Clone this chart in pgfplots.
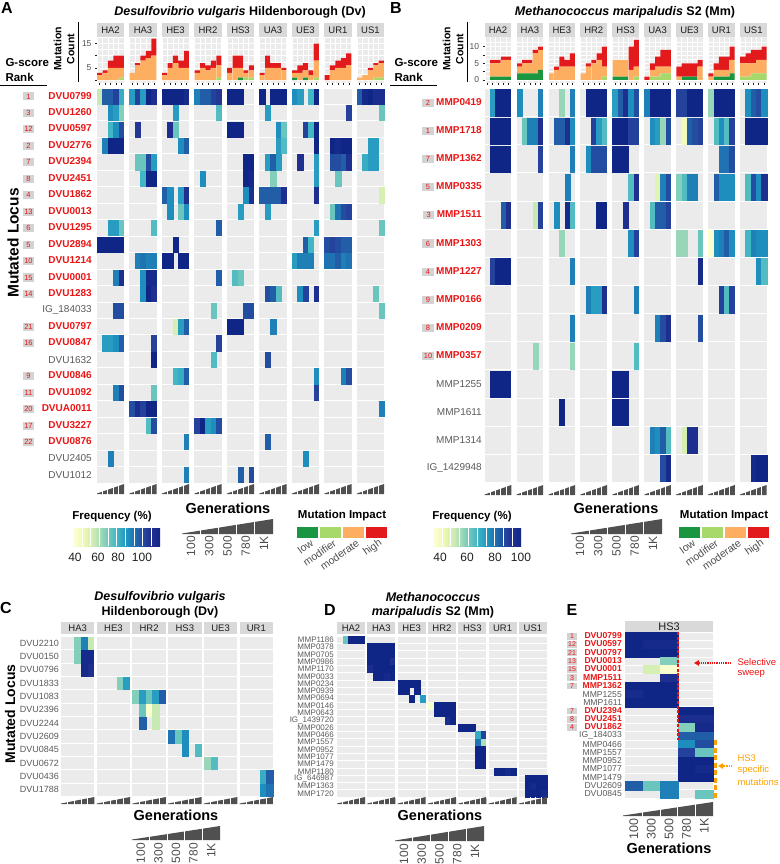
\documentclass[border=0pt]{standalone}
\usepackage{pgfplots}
\usepackage{pgfplotstable}
\pgfplotsset{compat=1.18}
\usepackage{fontspec}
\setmainfont{Liberation Sans}
\usetikzlibrary{arrows.meta}

\definecolor{bggray}{RGB}{235,235,235}
\definecolor{stripgray}{RGB}{217,217,217}
\definecolor{rankgray}{RGB}{211,211,211}
\definecolor{lbl}{RGB}{77,77,77}
\definecolor{dlbl}{RGB}{30,30,30}
\definecolor{glbl}{RGB}{90,90,90}
\definecolor{lowc}{RGB}{26,150,65}
\definecolor{modifc}{RGB}{166,217,106}
\definecolor{moderc}{RGB}{253,174,97}
\definecolor{highc}{RGB}{227,26,28}
\definecolor{locred}{RGB}{235,20,20}
\definecolor{wedgec}{RGB}{80,80,80}
\definecolor{hsorange}{RGB}{255,160,0}
\definecolor{cm0}{RGB}{255,255,217}
\definecolor{cm1}{RGB}{237,248,177}
\definecolor{cm2}{RGB}{199,233,180}
\definecolor{cm3}{RGB}{127,205,187}
\definecolor{cm4}{RGB}{65,182,196}
\definecolor{cm5}{RGB}{29,145,192}
\definecolor{cm6}{RGB}{34,94,168}
\definecolor{cm7}{RGB}{37,52,148}
\definecolor{cm8}{RGB}{16,38,135}

\pgfplotsset{
  colormap={ylgnbu}{rgb255=(255,255,217) rgb255=(237,248,177) rgb255=(199,233,180) rgb255=(127,205,187) rgb255=(65,182,196) rgb255=(29,145,192) rgb255=(34,94,168) rgb255=(37,52,148) rgb255=(16,38,135)},
  hm/.style={scale only axis, y dir=reverse, axis background/.style={fill=bggray},
    axis line style={draw=none}, xtick=\empty, major tick length=0pt, minor tick length=0pt,
    xminorgrids=true, yminorgrids=true, colormap name=ylgnbu, point meta min=40, point meta max=100,
    yticklabel style={anchor=east, inner sep=0pt}},
  tiles/.style 2 args={scatter, only marks, mark=square*, mark size=#1, mark options={yscale=#2, line width=0.1pt},
    scatter/use mapped color={draw=mapped color, fill=mapped color}, point meta=explicit},
  bars/.style={scale only axis, ybar stacked, bar width=0.95, axis background/.style={fill=bggray},
    axis line style={draw=none}, tick pos=left, tick align=outside, major tick length=2pt, minor tick length=0pt,
    tick style={dlbl, line width=0.5pt}, xmin=-0.5, xmax=52.5,
    xtick={0,1,2,3,4,6,7,8,9,10,12,13,14,15,16,18,19,20,21,22,24,25,26,27,28,30,31,32,33,34,36,37,38,39,40,42,43,44,45,46,48,49,50,51,52},
    xticklabels={}, minor xtick={-0.5,0.5,...,52.5}, xminorgrids=true, ymajorgrids=true, yminorgrids=true,
    major grid style={white, line width=0.8pt}, minor grid style={white, line width=0.4pt},
    yticklabel style={font=\fontsize{8.5}{10}\selectfont, text=lbl}},
}

\setlength{\fboxsep}{1.4pt}
\newcommand{\rk}[2][7.5]{\colorbox{rankgray}{\makebox[8.5pt]{\fontsize{#1}{#1}\selectfont\color{locred}#2}}}
\newcommand{\lA}[2]{\makebox[69pt][l]{\rk{#1}\hfill\textcolor{locred}{\bfseries #2}}}
\newcommand{\gA}[1]{\makebox[69pt][r]{\textcolor{glbl}{#1}}}
\newcommand{\lB}[2]{\makebox[62pt][r]{\rk{#1}\hspace{2.5pt}\textcolor{locred}{\bfseries #2}}}
\newcommand{\gB}[1]{\makebox[62pt][r]{\textcolor{glbl}{#1}}}
\newcommand{\lE}[2]{\makebox[55pt][l]{{\setlength{\fboxsep}{1pt}\rk[7]{#1}}\hfill\textcolor{locred}{\bfseries #2}}}
\newcommand{\gE}[1]{\makebox[55pt][r]{\textcolor{glbl}{#1}}}

\newcommand{\genwedge}[4]{%
  \fill[wedgec] (#1,-#3) -- ({#1+#2},-#3) -- ({#1+#2},{-#3+#4}) -- (#1,{-#3+0.5}) -- cycle;
  \foreach \q in {1,...,4}{\fill[white] ({#1+\q*#2/5-0.45},{-#3-0.5}) rectangle ({#1+\q*#2/5+0.45},{-#3+#4+0.5});}
}
\newcommand{\genleg}[6]{%
  \genwedge{#1}{#2}{#3}{#4}
  \foreach \lab [count=\q from 0] in {100,300,500,780,1K}{
    \node[rotate=90, anchor=east, inner sep=0pt, text=lbl, font=\fontsize{#6}{#6}\selectfont] at ({#1+(\q+0.5)*#2/5},-#5) {\lab};}
}
\newcommand{\cbar}[4]{%
  \foreach \q [evaluate=\q as \qq using int(\q+1)] in {0,...,7}{
    \shade[left color=cm\q, right color=cm\qq] ({#1+\q*(#2-#1)/8},-#3) rectangle ({#1+(\q+1)*(#2-#1)/8+0.05},-#4);}
  \foreach \q in {1,...,9}{\draw[white, line width=0.35pt] ({#1+\q*(#2-#1)/10},-#3) -- ({#1+\q*(#2-#1)/10},-#4);}
}
\newcommand{\impleg}[2]{%
  \foreach \clr/\lab [count=\q from 0] in {lowc/low, modifc/modifier, moderc/moderate, highc/high}{
    \fill[\clr] ({#1+\q*23},-#2) rectangle ++(20.5,-10.5);
    \node[rotate=35, anchor=east, inner sep=0pt, text=lbl, font=\fontsize{10.5}{10.5}\selectfont] at ({#1+\q*23+15},{-#2-15}) {\lab};}
}

\def\Cgrid{-0.5}
\foreach \p in {0,...,5}{\foreach \g in {0,...,5}{\pgfmathsetmacro\v{\p*5.36+\g-0.5}\xdef\Cgrid{\Cgrid,\v}}}
\def\Dgrid{-0.5}
\foreach \p in {0,...,6}{\foreach \g in {0,...,5}{\pgfmathsetmacro\v{\p*5.4+\g-0.5}\xdef\Dgrid{\Dgrid,\v}}}

% ---------------- data ----------------
\pgfplotstableread[row sep=\\]{
p g lo mf md hi\\
0 0 0 0 2 1\\0 1 0 0 3 1\\0 2 0 0 5 3\\0 3 0 0 5 5\\0 4 0 1 4 5\\
1 0 0 0 3 0\\1 1 0 0 6 1\\1 2 0 0 8 2\\1 3 0 0 9 3\\1 4 0 0 10 7\\
2 0 0 0 2 1\\2 1 0 0 5 2\\2 2 0 0 7 3\\2 3 0 0 5 3\\2 4 0 0 5 7\\
3 0 0 0 3 1\\3 1 0 0 5 2\\3 2 0 0 4 2\\3 3 0 0 5 3\\3 4 0 1 5 4\\
4 0 0 0 3 2\\4 1 0 0 5 5\\4 2 1 0 4 5\\4 3 0 1 2 1\\4 4 0 1 3 2\\
5 0 0 0 2 1\\5 1 0 0 5 5\\5 2 0 0 5 2\\5 3 0 0 5 2\\5 4 0 0 4 1\\
6 0 1 0 2 1\\6 1 0 0 3 3\\6 2 1 0 3 3\\6 3 0 0 2 2\\6 4 0 1 7 7\\
7 0 0 0 0 2\\7 1 0 0 4 2\\7 2 0 0 5 3\\7 3 0 0 5 4\\7 4 0 0 6 5\\
8 0 0 0 1 0\\8 1 0 0 2 0\\8 2 0 0 4 1\\8 3 0 1 5 1\\8 4 0 1 6 1\\
}\bA
\pgfplotstableread[row sep=\\]{
p g lo mf md hi\\
0 0 0 0 0 0\\0 1 1 0 4 1\\0 2 1 0 4 1\\0 3 1 0 5 1\\0 4 1 0 5 1\\
1 0 2 0 2 1\\1 1 2 0 3 1\\1 2 2 0 3 1\\1 3 2 0 6 1\\1 4 3 0 6 1\\
2 0 0 0 2 0\\2 1 0 0 3 1\\2 2 0 0 4 3\\2 3 0 0 4 2\\2 4 0 0 4 4\\
3 0 0 0 2 0\\3 1 0 0 4 1\\3 2 0 0 5 1\\3 3 0 0 6 2\\3 4 0 1 3 6\\
4 0 1 0 5 0\\4 1 1 0 5 0\\4 2 1 0 5 0\\4 3 0 0 3 7\\4 4 0 1 3 8\\
5 0 0 0 0 1\\5 1 0 1 2 2\\5 2 0 1 3 3\\5 3 0 2 2 5\\5 4 0 2 2 5\\
6 0 0 0 1 3\\6 1 1 0 0 4\\6 2 1 0 0 4\\6 3 1 0 0 4\\6 4 0 0 4 2\\
7 0 0 0 1 1\\7 1 1 0 2 2\\7 2 1 0 2 4\\7 3 1 0 2 4\\7 4 2 0 4 4\\
8 0 0 1 4 2\\8 1 0 1 4 3\\8 2 0 2 3 4\\8 3 0 2 4 3\\8 4 0 2 4 4\\
}\bB
\pgfplotstableread[row sep=\\]{
r p g f\\
0 0 0 55\\0 0 1 85\\0 0 2 85\\0 0 3 90\\0 0 4 72\\0 1 0 75\\0 1 1 90\\0 1 2 75\\0 1 3 100\\0 1 4 95\\
0 2 0 100\\0 2 1 100\\0 2 2 100\\0 2 3 100\\0 2 4 97\\0 3 0 80\\0 3 1 85\\0 3 2 85\\0 3 3 90\\0 3 4 92\\
0 4 0 100\\0 4 1 100\\0 4 2 100\\0 5 0 100\\0 5 2 100\\0 5 3 100\\0 5 4 100\\0 6 0 78\\0 6 1 75\\0 6 3 70\\0 6 4 100\\
0 8 0 85\\0 8 1 98\\0 8 2 100\\0 8 3 96\\0 8 4 96\\
1 0 2 78\\1 0 3 75\\1 0 4 62\\1 2 2 75\\1 3 4 68\\1 5 1 75\\1 7 4 90\\1 8 4 65\\
2 0 2 70\\2 0 3 78\\2 0 4 88\\2 1 1 92\\2 2 1 95\\2 2 2 65\\2 4 0 100\\2 4 1 100\\2 4 2 100\\2 5 3 78\\2 5 4 65\\2 6 2 90\\2 6 3 70\\2 6 4 100\\
3 0 1 80\\3 0 2 100\\3 0 3 100\\3 0 4 100\\3 2 3 78\\3 2 4 85\\3 5 3 75\\3 5 4 68\\3 6 4 100\\3 7 1 100\\3 7 2 98\\3 7 3 100\\3 7 4 100\\3 8 2 75\\3 8 3 75\\
4 1 1 65\\4 1 2 65\\4 1 3 88\\4 1 4 75\\4 4 3 100\\4 4 4 100\\4 5 1 75\\4 5 2 85\\4 5 3 75\\4 6 1 95\\4 6 4 75\\4 7 1 88\\4 7 2 88\\4 7 3 85\\4 7 4 95\\4 8 1 72\\4 8 2 75\\4 8 3 75\\
5 1 2 70\\5 1 3 100\\5 1 4 100\\5 3 1 78\\5 4 3 100\\5 4 4 98\\5 5 2 62\\5 6 4 75\\5 7 2 65\\
6 2 0 85\\6 2 1 78\\6 2 3 75\\6 2 4 95\\6 4 3 78\\6 4 4 95\\6 5 0 85\\6 5 1 85\\6 5 2 85\\6 5 3 85\\6 5 4 95\\6 6 4 95\\6 8 4 52\\
7 2 1 78\\7 2 3 65\\7 2 4 78\\7 4 2 75\\7 5 1 75\\7 7 1 65\\7 7 2 82\\7 7 3 88\\7 7 4 90\\
8 0 2 75\\8 0 3 75\\8 0 4 65\\8 1 4 68\\8 3 4 85\\8 6 4 75\\8 8 4 65\\
9 0 0 100\\9 0 1 100\\9 0 2 100\\9 0 3 100\\9 0 4 100\\9 2 2 100\\9 6 2 85\\9 6 3 70\\9 7 0 88\\9 7 1 90\\9 7 2 88\\9 7 3 85\\9 7 4 85\\
10 1 1 80\\10 1 2 82\\10 1 3 80\\10 1 4 80\\10 2 0 100\\10 2 1 100\\10 2 3 100\\10 2 4 100\\10 6 0 75\\10 6 1 80\\10 6 2 80\\10 6 3 80\\10 7 0 82\\10 7 1 82\\10 7 2 85\\10 7 3 80\\10 7 4 82\\
11 0 3 80\\11 0 4 95\\11 1 2 78\\11 1 3 98\\11 1 4 98\\11 3 4 85\\11 4 1 68\\11 4 2 65\\
12 1 2 78\\12 1 3 100\\12 1 4 95\\12 5 1 88\\12 5 2 85\\12 5 3 68\\12 6 1 78\\12 6 2 90\\12 6 4 95\\12 8 3 65\\
13 0 3 88\\13 0 4 88\\13 3 3 65\\13 4 3 88\\13 4 4 88\\13 8 4 65\\
14 2 2 52\\14 2 3 75\\14 2 4 85\\14 4 0 100\\14 4 1 100\\14 4 2 100\\14 5 2 80\\
15 0 1 75\\15 0 2 75\\15 0 3 78\\15 0 4 85\\15 1 4 90\\15 3 4 90\\
16 1 4 100\\16 3 3 68\\16 5 1 88\\
17 2 2 70\\17 2 3 72\\17 2 4 85\\17 6 4 78\\17 7 3 80\\17 7 4 88\\
18 0 3 80\\18 0 4 88\\18 1 4 65\\18 6 4 90\\
19 1 0 88\\19 1 1 96\\19 1 2 90\\19 1 3 100\\19 1 4 100\\19 8 4 80\\
20 1 3 68\\20 1 4 88\\20 3 0 90\\20 3 1 100\\20 3 2 75\\20 3 3 78\\20 3 4 88\\
21 2 4 80\\21 5 1 85\\
22 0 2 80\\22 6 2 78\\
23 2 4 80\\23 4 2 85\\23 4 4 88\\
}\tA
\pgfplotstableread[row sep=\\]{
r p g f\\
0 0 1 75\\0 0 2 100\\0 0 3 100\\0 0 4 100\\0 1 0 78\\0 1 4 80\\0 2 2 60\\0 2 4 80\\0 3 1 100\\0 3 2 100\\0 3 3 100\\0 3 4 100\\
0 4 0 75\\0 4 1 85\\0 4 2 95\\0 4 3 78\\0 4 4 88\\0 5 0 80\\0 5 1 100\\0 5 2 100\\0 5 3 100\\0 5 4 100\\0 6 0 90\\0 6 1 90\\0 6 2 100\\0 6 3 100\\0 6 4 100\\
0 7 0 60\\0 7 1 100\\0 7 2 100\\0 7 3 100\\0 7 4 100\\0 8 1 78\\0 8 2 85\\0 8 3 88\\0 8 4 78\\
1 0 1 100\\1 0 2 100\\1 0 3 100\\1 0 4 100\\1 1 1 65\\1 1 2 80\\1 1 3 80\\1 1 4 95\\1 2 1 85\\1 2 2 85\\1 2 3 95\\1 2 4 78\\1 3 2 90\\1 3 3 75\\1 3 4 68\\
1 4 0 100\\1 4 1 100\\1 4 2 100\\1 4 3 90\\1 4 4 90\\1 5 1 78\\1 5 2 75\\1 5 3 60\\1 5 4 88\\1 6 1 45\\1 6 2 85\\1 6 3 88\\1 6 4 90\\
1 7 1 68\\1 7 2 78\\1 7 3 68\\1 7 4 90\\1 8 1 100\\1 8 2 100\\1 8 3 100\\1 8 4 100\\
2 0 1 100\\2 0 2 100\\2 0 3 100\\2 0 4 100\\2 1 4 90\\2 2 4 80\\2 3 1 78\\2 3 2 88\\2 3 3 88\\2 3 4 88\\2 4 0 100\\2 4 1 100\\2 4 2 100\\2 7 2 82\\2 7 3 82\\2 7 4 88\\
3 2 3 80\\3 4 3 68\\3 4 4 95\\3 5 2 50\\3 5 3 80\\3 5 4 88\\3 6 0 62\\3 6 1 68\\3 6 2 80\\3 6 3 80\\3 7 1 85\\3 7 2 78\\3 7 3 78\\3 7 4 78\\3 8 1 68\\3 8 2 88\\3 8 3 78\\3 8 4 95\\
4 0 3 85\\4 0 4 95\\4 1 3 55\\4 1 4 90\\4 2 1 78\\4 2 3 98\\4 2 4 68\\4 3 3 100\\4 3 4 100\\4 4 2 95\\4 5 1 68\\4 5 2 85\\4 5 3 85\\4 5 4 90\\
5 2 2 60\\5 4 3 78\\5 4 4 90\\5 6 0 60\\5 6 1 60\\5 6 4 65\\5 7 0 42\\5 7 1 78\\5 7 2 80\\5 7 3 85\\5 7 4 78\\5 8 1 70\\5 8 2 80\\5 8 3 78\\5 8 4 78\\
6 0 1 90\\6 0 2 100\\6 0 3 100\\6 0 4 100\\6 2 4 80\\6 6 4 98\\6 8 3 78\\6 8 4 68\\
7 3 1 80\\7 3 2 75\\7 3 3 75\\7 3 4 95\\7 4 4 80\\7 7 2 90\\7 7 3 68\\7 7 4 90\\
8 2 4 80\\8 5 2 80\\8 5 3 88\\8 5 4 95\\8 6 4 88\\
9 1 3 60\\9 2 4 60\\9 4 4 68\\
10 0 1 100\\10 0 2 100\\10 0 3 100\\10 0 4 100\\10 4 0 100\\10 4 1 100\\10 4 2 100\\
11 2 2 100\\11 4 0 100\\11 4 1 100\\11 4 2 100\\
12 5 1 80\\12 5 2 78\\12 5 3 85\\12 5 4 68\\12 6 1 52\\12 6 2 95\\12 6 3 95\\
13 5 3 88\\13 5 4 98\\13 8 2 98\\13 8 3 100\\13 8 4 100\\
}\tB
\pgfplotstableread[row sep=\\]{
r p g f\\
0 0 2 62\\0 0 3 80\\0 0 4 55\\1 0 2 62\\1 0 3 98\\1 0 4 98\\2 0 3 98\\2 0 4 95\\3 1 3 62\\3 1 4 75\\
4 2 0 62\\4 2 1 75\\4 2 2 65\\4 2 3 75\\4 2 4 85\\5 2 1 65\\5 2 2 42\\5 2 3 55\\6 2 1 85\\6 2 3 55\\
7 3 0 82\\7 3 1 65\\7 3 2 78\\8 3 2 78\\8 3 4 68\\9 4 0 60\\9 4 1 68\\10 5 3 72\\10 5 4 85\\11 5 3 78\\11 5 4 82\\
}\tC
\pgfplotstableread[row sep=\\]{
r p g f\\
0 0 1 65\\0 0 2 100\\0 0 3 100\\0 0 4 100\\
1 1 0 100\\1 1 1 100\\1 1 2 100\\1 1 3 100\\1 1 4 100\\
2 1 0 100\\2 1 1 100\\2 1 2 100\\2 1 3 100\\2 1 4 100\\
3 1 0 100\\3 1 1 100\\3 1 2 100\\3 1 3 100\\3 1 4 94\\
4 1 0 96\\4 1 1 100\\4 1 2 100\\4 1 3 100\\4 1 4 100\\
5 1 1 100\\5 1 2 100\\5 1 3 98\\5 1 4 100\\
6 2 0 100\\6 2 1 100\\6 2 2 100\\6 2 3 100\\
7 2 0 100\\7 2 1 100\\7 2 3 100\\
8 2 2 100\\8 2 4 75\\
9 3 0 42\\9 3 1 100\\9 3 2 100\\9 3 3 100\\9 3 4 100\\
10 3 1 100\\10 3 2 100\\10 3 3 100\\10 3 4 100\\
11 3 3 96\\11 3 4 100\\
12 4 0 100\\12 4 1 100\\12 4 2 100\\
13 4 3 72\\13 4 4 90\\
14 4 3 82\\14 4 4 58\\
15 4 3 100\\15 4 4 100\\
16 4 3 100\\16 4 4 100\\
17 4 3 100\\17 4 4 100\\
18 5 1 100\\18 5 2 100\\18 5 3 98\\18 5 4 100\\
19 6 1 100\\19 6 2 100\\19 6 3 100\\19 6 4 100\\
20 6 1 100\\20 6 2 98\\20 6 3 100\\20 6 4 100\\
21 6 1 100\\21 6 2 100\\21 6 3 100\\21 6 4 98\\
}\tD
\pgfplotstableread[row sep=\\]{
r g f\\
0 0 100\\0 1 100\\0 2 100\\1 0 100\\1 1 98\\1 2 98\\2 0 100\\2 1 100\\2 2 100\\3 2 62\\4 1 52\\4 2 42\\5 2 95\\
6 0 100\\6 1 100\\6 2 100\\7 0 97\\7 1 100\\7 2 100\\8 0 100\\8 1 100\\8 2 100\\
9 3 100\\9 4 100\\10 3 96\\10 4 96\\11 3 62\\11 4 98\\12 3 85\\12 4 85\\13 3 78\\13 4 88\\14 3 90\\14 4 65\\
15 3 100\\15 4 100\\16 3 100\\16 4 98\\17 3 100\\17 4 100\\18 0 85\\18 1 65\\18 2 80\\19 2 80\\19 4 65\\
}\tE

\begin{document}
\begin{tikzpicture}[x=1pt,y=1pt]
\useasboundingbox (0,0) rectangle (779,-864);

% ======================= Panel A =======================
\node[font=\bfseries\fontsize{16}{16}\selectfont] at (7,-8) {A};
\node[font=\bfseries\fontsize{12.5}{14}\selectfont] at (240,-12) {\textit{Desulfovibrio vulgaris} Hildenborough (Dv)};
\node[anchor=west, font=\bfseries\fontsize{11.5}{12}\selectfont] at (2,-63) {G-score};
\node[anchor=west, font=\bfseries\fontsize{11.5}{12}\selectfont] at (2,-77) {Rank};
\draw[line width=0.8pt] (0,-85) -- (47,-85);
\node[rotate=90, align=center, font=\bfseries\fontsize{10.5}{13}\selectfont] at (64,-49) {Mutation\\Count};
\draw[line width=0.8pt] (78,-22) -- (78,-82);
\node[rotate=90, font=\bfseries\fontsize{15.5}{16}\selectfont] at (13,-243) {Mutated Locus};

\begin{axis}[bars, at={(97pt,-37pt)}, anchor=north west, width=287pt, height=46pt,
  ymin=-1.2, ymax=17.7, ytick={0,5,10,15}, yticklabels={,5,,15}, minor ytick={2.5,7.5,12.5,17.5}]
\addplot[fill=lowc, draw=none] table[x expr=\thisrow{p}*6+\thisrow{g}, y=lo] {\bA};
\addplot[fill=modifc, draw=none] table[x expr=\thisrow{p}*6+\thisrow{g}, y=mf] {\bA};
\addplot[fill=moderc, draw=none] table[x expr=\thisrow{p}*6+\thisrow{g}, y=md] {\bA};
\addplot[fill=highc, draw=none] table[x expr=\thisrow{p}*6+\thisrow{g}, y=hi] {\bA};
\end{axis}

\begin{axis}[hm, at={(97pt,-88pt)}, anchor=north west, width=287pt, height=395pt,
  xmin=-0.5, xmax=52.5, ymin=-0.5, ymax=23.5,
  minor xtick={-0.5,0.5,...,52.5}, minor ytick={-0.5,0.5,...,23.5},
  minor grid style={white, line width=0.9pt},
  ytick={0,...,23},
  yticklabels={{\lA{1}{DVU0799}},{\lA{3}{DVU1260}},{\lA{12}{DVU0597}},{\lA{2}{DVU2776}},{\lA{7}{DVU2394}},{\lA{8}{DVU2451}},{\lA{4}{DVU1862}},{\lA{13}{DVU0013}},{\lA{6}{DVU1295}},{\lA{5}{DVU2894}},{\lA{10}{DVU1214}},{\lA{15}{DVU0001}},{\lA{14}{DVU1283}},{\gA{IG\_184033}},{\lA{21}{DVU0797}},{\lA{16}{DVU0847}},{\gA{DVU1632}},{\lA{9}{DVU0846}},{\lA{11}{DVU1092}},{\lA{20}{DVUA0011}},{\lA{17}{DVU3227}},{\lA{22}{DVU0876}},{\gA{DVU2405}},{\gA{DVU1012}}},
  yticklabel style={font=\fontsize{10}{12}\selectfont, xshift=-5pt}]
\addplot[tiles={2.65pt}{2.86}] table[x expr=\thisrow{p}*6+\thisrow{g}, y=r, meta=f] {\tA};
\end{axis}

\foreach \nm [count=\ii from 0] in {HA2,HA3,HE3,HR2,HS3,UA3,UE3,UR1,US1}{
  \pgfmathsetmacro\L{97+32.49*\ii}
  \fill[stripgray] (\L,-23) rectangle ({\L+27.08},-37);
  \node[font=\fontsize{9.5}{10}\selectfont, text=dlbl] at ({\L+13.54},-30.3) {\nm};
  \genwedge{\L}{27.08}{494}{10}
}
\foreach \ii in {1,...,8}{\fill[white] ({97+32.49*\ii-5.415},-36.5) rectangle ({97+32.49*\ii},-483.5);}

% legends A
\node[font=\bfseries\fontsize{11.5}{12}\selectfont] at (112,-517) {Frequency (\%)};
\cbar{73}{160}{528}{546}
\foreach \v/\xx in {40/75,60/98,80/118,100/142}{\node[font=\fontsize{12}{12}\selectfont, text=dlbl] at (\xx,-557) {\v};}
\node[font=\bfseries\fontsize{14.5}{15}\selectfont] at (228,-508) {Generations};
\genleg{182}{91}{534}{15}{536}{12}
\node[font=\bfseries\fontsize{11.5}{12}\selectfont] at (342,-516) {Mutation Impact};
\impleg{297}{527}

% ======================= Panel B =======================
\node[font=\bfseries\fontsize{16}{16}\selectfont] at (396,-8) {B};
\node[font=\bfseries\fontsize{12.5}{14}\selectfont] at (625,-12) {\textit{Methanococcus maripaludis} S2 (Mm)};
\node[anchor=west, font=\bfseries\fontsize{11.5}{12}\selectfont] at (391,-63) {G-score};
\node[anchor=west, font=\bfseries\fontsize{11.5}{12}\selectfont] at (391,-77) {Rank};
\draw[line width=0.8pt] (390,-85) -- (437,-85);
\node[rotate=90, align=center, font=\bfseries\fontsize{10.5}{13}\selectfont] at (453,-49) {Mutation\\Count};
\draw[line width=0.8pt] (467,-22) -- (467,-82);

\begin{axis}[bars, at={(484.7pt,-37pt)}, anchor=north west, width=282pt, height=46pt,
  ymin=-0.9, ymax=12.9, ytick={0,2.5,5,7.5,10}, yticklabels={0,,5,,10}, minor ytick={1.25,3.75,6.25,8.75,11.25}]
\addplot[fill=lowc, draw=none] table[x expr=\thisrow{p}*6+\thisrow{g}, y=lo] {\bB};
\addplot[fill=modifc, draw=none] table[x expr=\thisrow{p}*6+\thisrow{g}, y=mf] {\bB};
\addplot[fill=moderc, draw=none] table[x expr=\thisrow{p}*6+\thisrow{g}, y=md] {\bB};
\addplot[fill=highc, draw=none] table[x expr=\thisrow{p}*6+\thisrow{g}, y=hi] {\bB};
\end{axis}

\begin{axis}[hm, at={(484.7pt,-88.5pt)}, anchor=north west, width=282pt, height=394pt,
  xmin=-0.5, xmax=52.5, ymin=-0.5, ymax=13.5,
  minor xtick={-0.5,0.5,...,52.5}, minor ytick={-0.5,0.5,...,13.5},
  minor grid style={white, line width=0.9pt},
  ytick={0,...,13},
  yticklabels={{\lB{2}{MMP0419}},{\lB{1}{MMP1718}},{\lB{7}{MMP1362}},{\lB{5}{MMP0335}},{\lB{3}{MMP1511}},{\lB{6}{MMP1303}},{\lB{4}{MMP1227}},{\lB{9}{MMP0166}},{\lB{8}{MMP0209}},{\lB{10}{MMP0357}},{\gB{MMP1255}},{\gB{MMP1611}},{\gB{MMP1314}},{\gB{IG\_1429948}}},
  yticklabel style={font=\fontsize{10}{12}\selectfont, xshift=-2.7pt}]
\addplot[tiles={2.6pt}{5.03}] table[x expr=\thisrow{p}*6+\thisrow{g}, y=r, meta=f] {\tB};
\end{axis}

\foreach \nm [count=\ii from 0] in {HA2,HA3,HE3,HR2,HS3,UA3,UE3,UR1,US1}{
  \pgfmathsetmacro\L{484.7+31.92*\ii}
  \fill[stripgray] (\L,-23) rectangle ({\L+26.6},-37);
  \node[font=\fontsize{9.5}{10}\selectfont, text=dlbl] at ({\L+13.3},-30.3) {\nm};
  \genwedge{\L}{26.6}{495}{10}
}
\foreach \ii in {1,...,8}{\fill[white] ({484.7+31.92*\ii-5.32},-36.5) rectangle ({484.7+31.92*\ii},-483);}

% legends B
\node[font=\bfseries\fontsize{11.5}{12}\selectfont] at (472,-517) {Frequency (\%)};
\cbar{433}{521}{528}{546}
\foreach \v/\xx in {40/440,60/467,80/495,100/521}{\node[font=\fontsize{12}{12}\selectfont, text=dlbl] at (\xx,-557) {\v};}
\node[font=\bfseries\fontsize{14.5}{15}\selectfont] at (616,-508) {Generations};
\genleg{571}{91}{534}{15}{536}{12}
\node[font=\bfseries\fontsize{11.5}{12}\selectfont] at (724,-516) {Mutation Impact};
\impleg{679}{527}

% ======================= Panel C =======================
\node[font=\bfseries\fontsize{16}{16}\selectfont] at (6,-608) {C};
\node[font=\bfseries\itshape\fontsize{12.5}{14}\selectfont] at (160,-597) {Desulfovibrio vulgaris};
\node[font=\bfseries\fontsize{12.5}{14}\selectfont] at (160,-612.5) {Hildenborough (Dv)};
\node[rotate=90, font=\bfseries\fontsize{14}{15}\selectfont] at (10,-714) {Mutated Locus};

\begin{axis}[hm, at={(61pt,-636.5pt)}, anchor=north west, width=212pt, height=160pt,
  xmin=-0.5, xmax=31.3, ymin=-0.5, ymax=11.5,
  minor xtick=\Cgrid, minor ytick={-0.5,0.5,...,11.5},
  minor grid style={white, line width=0.7pt},
  ytick={0,...,11},
  yticklabels={DVU2210,DVU0150,DVU0796,DVU1833,DVU1083,DVU2396,DVU2244,DVU2609,DVU0845,DVU0672,DVU0436,DVU1788},
  yticklabel style={font=\fontsize{9}{10}\selectfont, text=glbl, xshift=-2pt}]
\addplot[tiles={3.28pt}{1.87}] table[x expr=\thisrow{p}*5.36+\thisrow{g}, y=r, meta=f] {\tC};
\end{axis}
\foreach \nm [count=\ii from 0] in {HA3,HE3,HR2,HS3,UE3,UR1}{
  \pgfmathsetmacro\L{61+35.73*\ii}
  \fill[stripgray] (\L,-622) rectangle ({\L+33.33},-633.5);
  \node[font=\fontsize{9.5}{10}\selectfont, text=dlbl] at ({\L+16.67},-628) {\nm};
  \genwedge{\L}{33.33}{804}{7}
}
\foreach \ii in {1,...,5}{\fill[white] ({61+35.73*\ii-2.4},-636) rectangle ({61+35.73*\ii},-797);}
\node[font=\bfseries\fontsize{14.5}{15}\selectfont] at (176,-815) {Generations};
\genleg{132}{88}{840}{14}{843}{12}

% ======================= Panel D =======================
\node[font=\bfseries\fontsize{16}{16}\selectfont] at (330,-610) {D};
\node[font=\bfseries\itshape\fontsize{12.5}{14}\selectfont] at (433,-597) {Methanococcus};
\node[font=\bfseries\fontsize{12.5}{14}\selectfont] at (433,-612.5) {\textit{maripaludis} S2 (Mm)};

\begin{axis}[hm, at={(337pt,-636pt)}, anchor=north west, width=210pt, height=161pt,
  xmin=-0.5, xmax=36.9, ymin=-0.5, ymax=21.5,
  minor xtick=\Dgrid, minor ytick={-0.5,0.5,...,21.5},
  minor grid style={white, line width=0.45pt},
  ytick={0,...,21},
  yticklabels={MMP1186,MMP0378,MMP0705,MMP0986,MMP1170,MMP0033,MMP0234,MMP0939,MMP0694,MMP0146,MMP0643,IG\_1439720,MMP0026,MMP0466,MMP1557,MMP0952,MMP1077,MMP1479,MMP1180,IG\_646987,MMP1363,MMP1720},
  yticklabel style={font=\fontsize{8}{8}\selectfont, text=glbl, xshift=-3pt}]
\addplot[tiles={2.76pt}{1.26}] table[x expr=\thisrow{p}*5.4+\thisrow{g}, y=r, meta=f] {\tD};
\end{axis}
\foreach \nm [count=\ii from 0] in {HA2,HA3,HE3,HR2,HS3,UR1,US1}{
  \pgfmathsetmacro\L{337+30.32*\ii}
  \fill[stripgray] (\L,-622) rectangle ({\L+28.07},-633.5);
  \node[font=\fontsize{9.5}{10}\selectfont, text=dlbl] at ({\L+14.03},-628) {\nm};
  \genwedge{\L}{28.07}{804}{7}
}
\foreach \ii in {1,...,6}{\fill[white] ({337+30.32*\ii-2.25},-635.5) rectangle ({337+30.32*\ii},-797.5);}
\node[font=\bfseries\fontsize{14.5}{15}\selectfont] at (440,-815) {Generations};
\genleg{395}{89}{841}{15}{844}{12}

% ======================= Panel E =======================
\node[font=\bfseries\fontsize{16}{16}\selectfont] at (572,-610) {E};
\begin{axis}[hm, at={(625pt,-632pt)}, anchor=north west, width=88pt, height=166pt,
  xmin=-0.5, xmax=4.5, ymin=-0.5, ymax=19.5,
  minor xtick={-0.5,0.5,...,4.5}, minor ytick={-0.5,0.5,...,19.5},
  minor grid style={white, line width=0.5pt},
  ytick={0,...,19},
  yticklabels={{\lE{1}{DVU0799}},{\lE{12}{DVU0597}},{\lE{21}{DVU0797}},{\lE{13}{DVU0013}},{\lE{15}{DVU0001}},{\lE{3}{MMP1511}},{\lE{7}{MMP1362}},{\gE{MMP1255}},{\gE{MMP1611}},{\lE{7}{DVU2394}},{\lE{8}{DVU2451}},{\lE{4}{DVU1862}},{\gE{IG\_184033}},{\gE{MMP0466}},{\gE{MMP1557}},{\gE{MMP0952}},{\gE{MMP1077}},{\gE{MMP1479}},{\gE{DVU2609}},{\gE{DVU0845}}},
  yticklabel style={font=\fontsize{8.6}{8.6}\selectfont, xshift=-3pt}]
\addplot[tiles={8.7pt}{0.465}] table[x expr=\thisrow{g}, y=r, meta=f] {\tE};
\end{axis}
\fill[stripgray] (625,-621) rectangle (713,-632);
\node[font=\fontsize{11}{11}\selectfont, text=dlbl] at (669,-626.5) {HS3};
\fill[wedgec] (623,-816) -- (713,-816) -- (713,-802) -- (623,-815.5) -- cycle;
\foreach \q in {1,...,4}{\fill[white] ({625+\q*17.6-0.6},-817) rectangle ({625+\q*17.6+0.6},-801);}
\foreach \lab [count=\q from 0] in {100,300,500,780,1K}{
  \node[rotate=90, anchor=east, inner sep=0pt, text=lbl, font=\fontsize{12.5}{12.5}\selectfont] at ({625+(\q+0.5)*17.6},-818) {\lab};}
\node[font=\bfseries\fontsize{14.5}{15}\selectfont] at (669,-848) {Generations};

\draw[locred, line width=2.4pt, dash pattern=on 3pt off 1.6pt] (677.8,-632) -- (677.8,-740);
\draw[hsorange, line width=2.2pt, dash pattern=on 5pt off 2.5pt] (715.5,-740) -- (715.5,-798);
\draw[locred, line width=1.3pt, dash pattern=on 1pt off 0.8pt, -{Triangle[length=5pt,width=5.5pt]}] (731,-663) -- (694,-663);
\draw[hsorange, line width=1.3pt, dash pattern=on 1pt off 0.8pt, -{Triangle[length=5pt,width=5.5pt]}] (732,-766) -- (718,-766);
\node[anchor=west, text=locred, font=\fontsize{9.5}{10}\selectfont] at (734,-662) {Selective};
\node[anchor=west, text=locred, font=\fontsize{9.5}{10}\selectfont] at (734,-674) {sweep};
\node[anchor=west, text=hsorange, font=\fontsize{9.5}{10}\selectfont] at (734,-758) {HS3};
\node[anchor=west, text=hsorange, font=\fontsize{9.5}{10}\selectfont] at (734,-770) {specific};
\node[anchor=west, text=hsorange, font=\fontsize{9.5}{10}\selectfont] at (734,-782) {mutations};

\end{tikzpicture}
\end{document}
